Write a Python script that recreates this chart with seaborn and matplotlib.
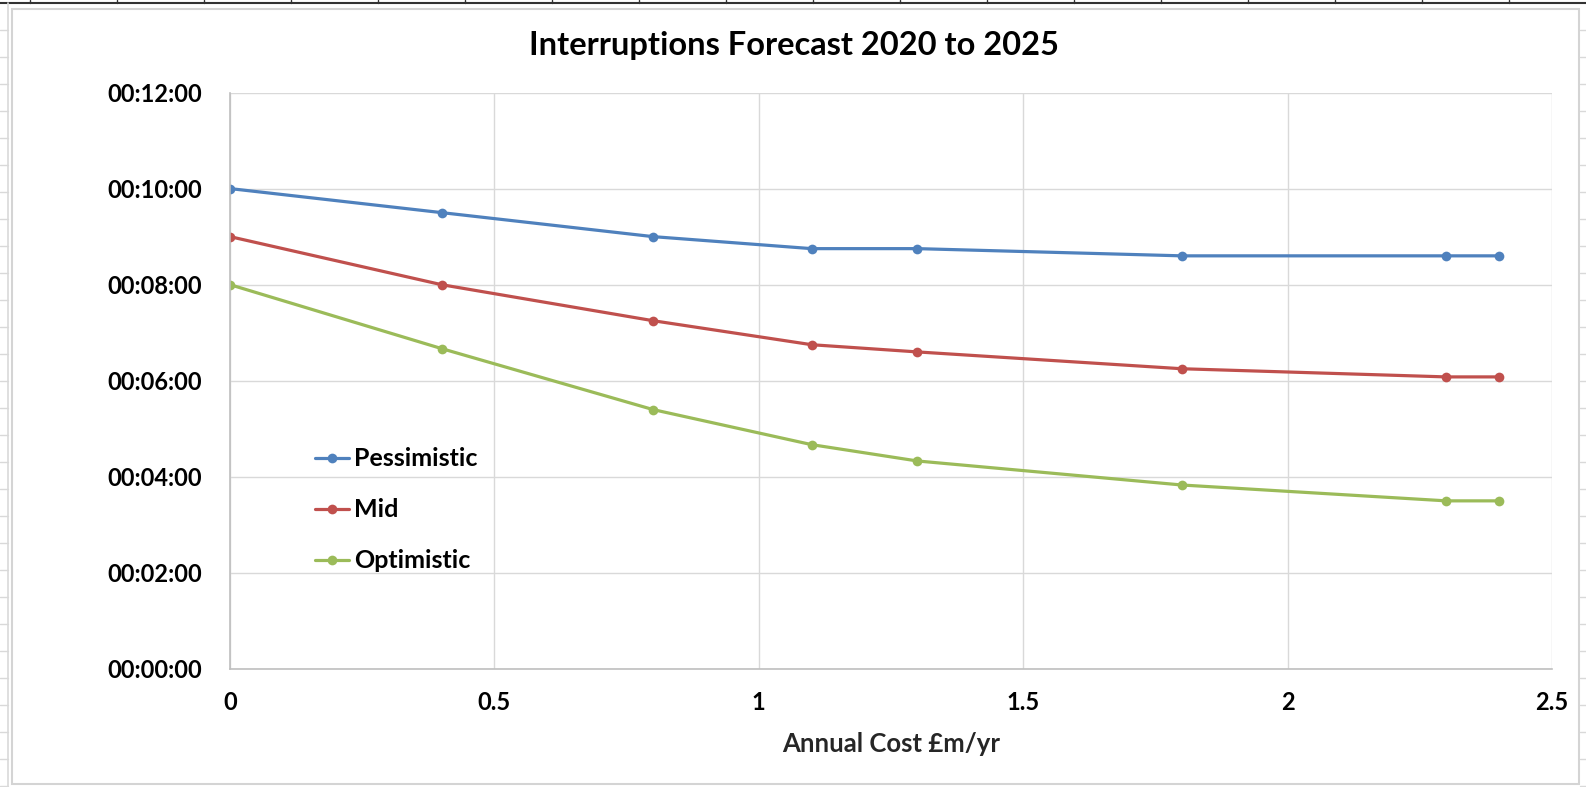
import pandas as pd
import seaborn as sns
import matplotlib.pyplot as plt
from matplotlib.ticker import FuncFormatter, MultipleLocator
from matplotlib.patches import Rectangle
from matplotlib.lines import Line2D

# annual cost in £m/yr
cost = [0, 0.4, 0.8, 1.1, 1.3, 1.8, 2.3, 2.4]
# interruption times in minutes
pessimistic = [10.0, 9.5, 9.0, 8.75, 8.75, 8.6, 8.6, 8.6]
mid = [9.0, 8.0, 7.25, 6.75, 6.6, 6.25, 6.08, 6.08]
optimistic = [8.0, 6.67, 5.4, 4.67, 4.33, 3.83, 3.5, 3.5]
series_names = ['Pessimistic', 'Mid', 'Optimistic']
colors = ['#4F81BD', '#C0504D', '#9BBB59']

df = pd.DataFrame({
    'cost': cost * 3,
    'minutes': pessimistic + mid + optimistic,
    'scenario': [s for s in series_names for _ in cost],
})

sns.set_style('white')
plt.rcParams['font.family'] = ['Lato', 'DejaVu Sans']
plt.rcParams['text.color'] = 'black'
plt.rcParams['xtick.color'] = 'black'
plt.rcParams['ytick.color'] = 'black'

W, H = 1586, 787
fig = plt.figure(figsize=(W / 100, H / 100), dpi=100)
ax = fig.add_axes([230 / W, 1 - 669 / H, (1552 - 230) / W, (669 - 92.5) / H])

sns.lineplot(data=df, x='cost', y='minutes', hue='scenario', palette=colors,
             marker='o', markersize=7, markeredgewidth=0, linewidth=2.3, ax=ax)

ax.set_xlim(0, 2.5)
ax.set_ylim(0, 12)
ax.xaxis.set_major_locator(MultipleLocator(0.5))
ax.yaxis.set_major_locator(MultipleLocator(2))
ax.xaxis.set_major_formatter(FuncFormatter(lambda v, p: '{:g}'.format(v)))
ax.yaxis.set_major_formatter(FuncFormatter(lambda v, p: '00:{:02d}:00'.format(int(round(v)))))
ax.grid(True, color='#d9d9d9', linewidth=1)
for side in ['top', 'right']:
    ax.spines[side].set_visible(False)
for side in ['left', 'bottom']:
    ax.spines[side].set_color('#bfbfbf')
    ax.spines[side].set_linewidth(1.2)
ax.tick_params(axis='both', length=0, labelsize=17)
ax.tick_params(axis='x', pad=16)
ax.tick_params(axis='y', pad=20)
for lab in ax.get_xticklabels() + ax.get_yticklabels():
    lab.set_fontweight('bold')

ax.set_xlabel('Annual Cost £m/yr', fontsize=18.5, fontweight='bold', labelpad=13)
ax.set_ylabel('')

leg = ax.legend(loc='upper left', bbox_to_anchor=(0.051, 0.415), frameon=False,
                fontsize=18, handlelength=1.35, handletextpad=0.2, labelspacing=1.12,
                borderpad=0.2)
for t in leg.get_texts():
    t.set_fontweight('bold')

fig.text(794 / W, 1 - 46 / H, 'Interruptions Forecast 2020 to 2025',
         ha='center', va='center', fontsize=23.5, fontweight='bold')

# chart area frame
fig.patches.append(Rectangle((12 / W, 1 - 784 / H), (1579 - 12) / W, (784 - 9) / H,
                             transform=fig.transFigure, fill=False,
                             edgecolor='#d4d4d4', linewidth=1.5))

# spreadsheet cells around the chart
fig.lines.append(Line2D([0, 1], [1 - 3 / H, 1 - 3 / H], transform=fig.transFigure,
                        color='#333333', linewidth=1.5))
for cx in range(30, W, 87):
    fig.lines.append(Line2D([cx / W, cx / W], [1 - 3 / H, 1], transform=fig.transFigure,
                            color='#333333', linewidth=1))
fig.lines.append(Line2D([7.5 / W, 7.5 / W], [0, 1 - 3 / H], transform=fig.transFigure,
                        color='#d9d9d9', linewidth=1.2))
for ry in range(30, H, 27):
    fig.lines.append(Line2D([0, 7.5 / W], [1 - ry / H, 1 - ry / H], transform=fig.transFigure,
                            color='#d9d9d9', linewidth=1))
    fig.lines.append(Line2D([1580 / W, 1], [1 - ry / H, 1 - ry / H], transform=fig.transFigure,
                            color='#d9d9d9', linewidth=1))

fig.savefig('out.png', dpi=100)
